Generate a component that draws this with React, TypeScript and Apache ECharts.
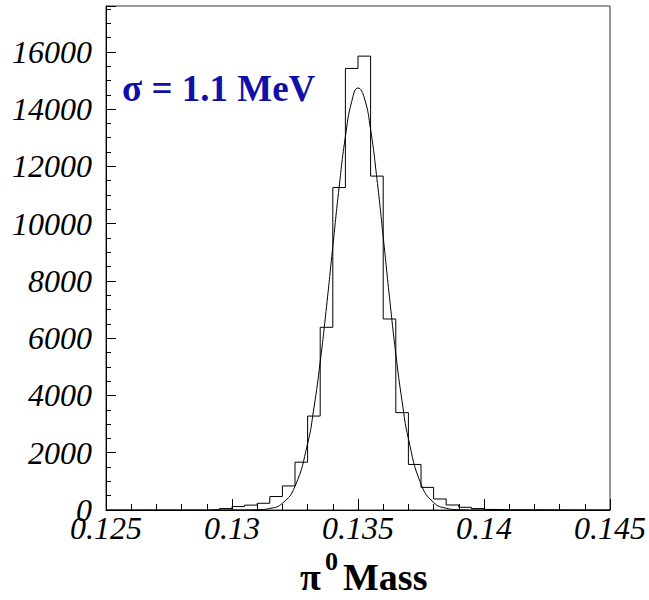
import React, { useEffect, useRef } from "react";
import * as echarts from "echarts";

// Histogram: lower bin edges (bin width 0.0005 GeV) and counts
const binLowEdges = [
  0.129, 0.1295, 0.13, 0.1305, 0.131, 0.1315, 0.132, 0.1325, 0.133, 0.1335,
  0.134, 0.1345, 0.135, 0.1355, 0.136, 0.1365, 0.137, 0.1375, 0.138, 0.1385,
  0.139, 0.1395, 0.14, 0.1405, 0.141,
];
const binCounts = [
  15, 50, 120, 170, 235, 470, 840, 1670, 3280, 6380,
  11260, 15420, 15850, 11660, 6670, 3400, 1590, 790, 385, 175,
  95, 50, 20, 10, 0,
];

// Gaussian fit curve
const fitX = [
  0.1295, 0.13, 0.1305, 0.131, 0.1315, 0.132, 0.1325, 0.133, 0.13325, 0.1335,
  0.13375, 0.134, 0.13425, 0.1345, 0.13475, 0.135, 0.13525, 0.1355, 0.13575,
  0.136, 0.13625, 0.1365, 0.13675, 0.137, 0.1375, 0.138, 0.1385, 0.139, 0.1395,
  0.14, 0.1405,
];
const fitY = [
  0, 0, 1, 10, 53, 236, 827, 2318, 3560, 5169,
  7093, 9198, 11264, 13039, 14261, 14737, 14390, 13278, 11575,
  9536, 7422, 5454, 3794, 2490, 906, 263, 61, 11, 2,
  0, 0,
];

const xRange = [0.125, 0.145];
const yRange = [0, 17600];
const sigmaLabel = "σ = 1.1 MeV";
const axisTitle = ["π", "0", "Mass"];

const SERIF = "Liberation Serif";

export default function App() {
  const ref = useRef<HTMLDivElement>(null);
  useEffect(() => {
    if (!ref.current) return;
    const chart = echarts.init(ref.current, undefined, { renderer: "svg" });
    const histData: [number, number][] = [[xRange[0], 0]];
    binLowEdges.forEach((x, i) => histData.push([x, binCounts[i]]));
    histData.push([xRange[1], 0]);
    const fitData = fitX.map((x, i) => [x, fitY[i]]);
    const richLabel = {
      t: {
        fontFamily: SERIF,
        fontStyle: "italic",
        fontWeight: "normal",
        fontSize: 32,
        color: "#000",
      },
    };
    const txt = (text: string, x: number, y: number, size: number, fill = "#000") => ({
      type: "text",
      x,
      y,
      style: {
        text,
        fontFamily: SERIF,
        fontWeight: "bold",
        fontSize: size,
        fill,
        verticalAlign: "middle",
        align: "left",
      },
    });
    chart.setOption({
      animation: false,
      textStyle: { fontFamily: SERIF, fontStyle: "italic", fontWeight: "normal" },
      grid: {
        left: 106,
        top: 6,
        width: 504,
        height: 504,
        show: true,
        borderColor: "#333",
        borderWidth: 1,
      },
      xAxis: {
        type: "value",
        min: xRange[0],
        max: xRange[1],
        interval: 0.005,
        axisLine: { lineStyle: { color: "#000", width: 1 } },
        axisTick: { inside: true, length: 11, lineStyle: { color: "#000" } },
        minorTick: { show: true, splitNumber: 5, length: 6, lineStyle: { color: "#000" } },
        splitLine: { show: false },
        axisLabel: {
          fontFamily: SERIF,
          fontStyle: "italic",
          fontSize: 32,
          color: "#000",
          margin: 2,
          rich: richLabel,
          formatter: (v: number) => "{t|" + String(parseFloat(v.toFixed(4))) + "}",
        },
      },
      yAxis: {
        type: "value",
        min: yRange[0],
        max: yRange[1],
        interval: 2000,
        axisLine: { show: true, lineStyle: { color: "#000", width: 1 } },
        axisTick: { inside: true, length: 10, lineStyle: { color: "#000" } },
        minorTick: { show: true, splitNumber: 4, length: 5, lineStyle: { color: "#000" } },
        splitLine: { show: false },
        axisLabel: {
          fontFamily: SERIF,
          fontStyle: "italic",
          fontSize: 32,
          color: "#000",
          margin: 14,
          showMaxLabel: false,
          rich: richLabel,
          formatter: (v: number) => "{t|" + String(Math.round(v)) + "}",
        },
      },
      series: [
        {
          type: "line",
          step: "end",
          data: histData,
          symbol: "none",
          lineStyle: { color: "#000", width: 1 },
          z: 3,
        },
        {
          type: "line",
          smooth: true,
          data: fitData,
          symbol: "none",
          lineStyle: { color: "#000", width: 1 },
          z: 4,
        },
      ],
      graphic: [
        txt(sigmaLabel, 122, 88.5, 37, "#1010a8"),
        txt(axisTitle[0], 300, 577, 38),
        txt(axisTitle[1], 325, 561, 26),
        txt(axisTitle[2], 343, 577, 38),
      ],
    });
    return () => chart.dispose();
  }, []);
  return (
    <div
      ref={ref}
      style={{ position: "fixed", left: 0, top: 0, width: 649, height: 600, background: "#fff" }}
    />
  );
}
